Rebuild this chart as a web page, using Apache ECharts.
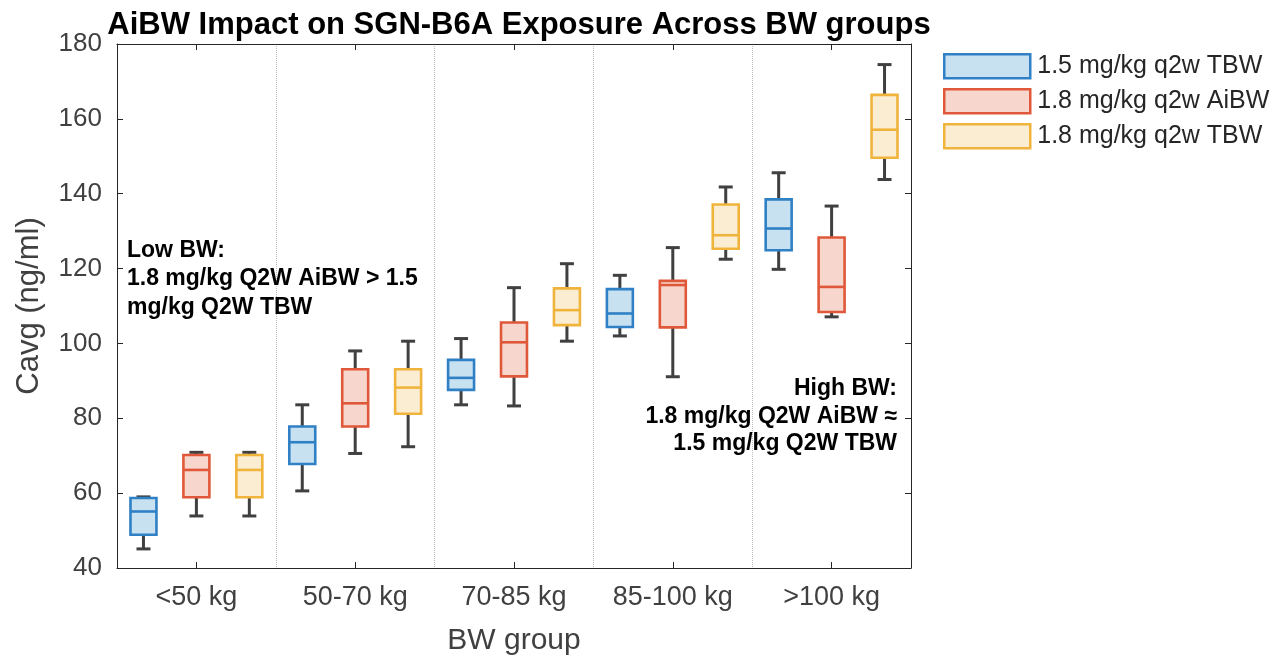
<!DOCTYPE html>
<html>
<head>
<meta charset="utf-8">
<script src="https://cdn.jsdelivr.net/npm/echarts@6/dist/echarts.min.js"></script>
<style>html,body{margin:0;padding:0;background:#fff}#c{width:1281px;height:661px}</style>
</head>
<body>
<div id="c"></div>
<script>
// ---- data : [min, Q1, median, Q3, max] ----
const categories = ['<50 kg', '50-70 kg', '70-85 kg', '85-100 kg', '>100 kg'];
const seriesNames = ['1.5 mg/kg q2w TBW', '1.8 mg/kg q2w AiBW', '1.8 mg/kg q2w TBW'];
const tbw15 = [
  [45.1, 48.9, 55.1, 58.7, 59.0],
  [60.6, 67.8, 73.6, 77.8, 83.6],
  [83.6, 87.6, 90.8, 95.6, 101.3],
  [102.0, 104.4, 108.0, 114.5, 118.2],
  [119.8, 124.9, 130.7, 138.5, 145.6]
];
const aibw18 = [
  [53.9, 58.9, 66.2, 70.2, 70.9],
  [70.6, 77.8, 84.0, 93.1, 98.0],
  [83.3, 91.2, 100.3, 105.6, 114.9],
  [91.1, 104.3, 115.6, 116.7, 125.6],
  [107.1, 108.4, 115.1, 128.3, 136.7]
];
const tbw18 = [
  [53.9, 58.9, 66.2, 70.2, 70.9],
  [72.4, 81.2, 88.2, 93.1, 100.6],
  [100.6, 104.9, 108.9, 114.7, 121.3],
  [122.5, 125.3, 128.9, 137.1, 141.8],
  [143.8, 149.6, 157.1, 166.4, 174.5]
];
const yTicks = { min: 40, max: 180, interval: 20 };

// ---- styles ----
const FONT = 'Liberation Sans, Arial, sans-serif';
const AXIS = '#262626';
const LABEL = '#404040';
const WHISKER = '#404040';
const styles = [
  { stroke: '#2f80c5', fill: '#c8e1f1', offset: -1 / 3 },
  { stroke: '#e0583a', fill: '#f7d6cd', offset: 0 },
  { stroke: '#f0b43c', fill: '#fbedd1', offset: 1 / 3 }
];
const BOX_FRAC = 26 / 159;
const CAP_FRAC = 14 / 159;

function toItems(arr) {
  return arr.map((v, i) => [i].concat(v));
}

function makeRender(st) {
  return function (params, api) {
    const xi = api.value(0);
    const band = api.size([1, 0])[0];
    const cx = api.coord([xi, api.value(3)])[0] + band * st.offset;
    const yMin = api.coord([xi, api.value(1)])[1];
    const yQ1 = api.coord([xi, api.value(2)])[1];
    const yMed = api.coord([xi, api.value(3)])[1];
    const yQ3 = api.coord([xi, api.value(4)])[1];
    const yMax = api.coord([xi, api.value(5)])[1];
    const hw = band * BOX_FRAC / 2;
    const cw = band * CAP_FRAC / 2;
    const wStyle = { stroke: WHISKER, lineWidth: 3, fill: null };
    return {
      type: 'group',
      children: [
        { type: 'line', shape: { x1: cx, y1: yQ3, x2: cx, y2: yMax }, style: wStyle },
        { type: 'line', shape: { x1: cx, y1: yQ1, x2: cx, y2: yMin }, style: wStyle },
        { type: 'line', shape: { x1: cx - cw, y1: yMax, x2: cx + cw, y2: yMax }, style: wStyle },
        { type: 'line', shape: { x1: cx - cw, y1: yMin, x2: cx + cw, y2: yMin }, style: wStyle },
        { type: 'rect', shape: { x: cx - hw, y: yQ3, width: 2 * hw, height: yQ1 - yQ3 },
          style: { fill: st.fill, stroke: st.stroke, lineWidth: 2.6 } },
        { type: 'line', shape: { x1: cx - hw, y1: yMed, x2: cx + hw, y2: yMed },
          style: { stroke: st.stroke, lineWidth: 2.6 } }
      ]
    };
  };
}

const allData = [tbw15, aibw18, tbw18];
const series = allData.map((d, k) => ({
  name: seriesNames[k],
  type: 'custom',
  renderItem: makeRender(styles[k]),
  encode: { x: 0, y: [1, 2, 3, 4, 5] },
  itemStyle: { color: styles[k].fill, borderColor: styles[k].stroke, borderWidth: 2.5 },
  data: toItems(d),
  z: 5
}));

const chart = echarts.init(document.getElementById('c'), null, { renderer: 'canvas' });
chart.setOption({
  animation: false,
  backgroundColor: '#fff',
  textStyle: { fontFamily: FONT },
  title: {
    text: 'AiBW Impact on SGN-B6A Exposure Across BW groups',
    left: 514, top: 5, textAlign: 'center',
    textStyle: { fontFamily: FONT, fontSize: 31, fontWeight: 'bold', color: '#000' }
  },
  legend: {
    orient: 'vertical', left: 943, top: 53, padding: 0,
    itemWidth: 86, itemHeight: 24, itemGap: 8.5,
    icon: 'rect',
    textStyle: { fontFamily: FONT, fontSize: 25, color: '#262626', padding: [0, 0, 0, 2] },
    data: seriesNames.map((n, k) => ({
      name: n,
      itemStyle: { color: styles[k].fill, borderColor: styles[k].stroke, borderWidth: 2.5 }
    }))
  },
  grid: { left: 117, top: 44, width: 794, height: 525, containLabel: false },
  xAxis: [
    {
      type: 'category', data: categories, position: 'bottom',
      boundaryGap: true,
      axisLine: { show: true, lineStyle: { color: AXIS, width: 1 } },
      axisTick: { show: true, inside: true, alignWithLabel: true, length: 6, lineStyle: { color: AXIS } },
      axisLabel: { fontFamily: FONT, fontSize: 27, color: LABEL, margin: 16 },
      splitLine: { show: true, lineStyle: { type: 'dotted', color: '#bdbdbd', width: 1 } },
      name: 'BW group', nameLocation: 'middle', nameGap: 58,
      nameTextStyle: { fontFamily: FONT, fontSize: 30, color: LABEL }
    },
    {
      type: 'category', data: categories, position: 'top',
      boundaryGap: true,
      axisLine: { show: true, lineStyle: { color: AXIS, width: 1 } },
      axisTick: { show: true, inside: true, alignWithLabel: true, length: 6, lineStyle: { color: AXIS } },
      axisLabel: { show: false },
      splitLine: { show: false }
    }
  ],
  yAxis: [
    {
      type: 'value', min: yTicks.min, max: yTicks.max, interval: yTicks.interval, position: 'left',
      axisLine: { show: true, lineStyle: { color: AXIS, width: 1 } },
      axisTick: { show: true, inside: true, length: 6, lineStyle: { color: AXIS } },
      axisLabel: { fontFamily: FONT, fontSize: 26, color: LABEL, margin: 15 },
      splitLine: { show: false },
      name: 'Cavg (ng/ml)', nameLocation: 'middle', nameGap: 72, nameRotate: 90,
      nameTextStyle: { fontFamily: FONT, fontSize: 31, color: LABEL }
    },
    {
      type: 'value', min: yTicks.min, max: yTicks.max, interval: yTicks.interval, position: 'right',
      axisLine: { show: true, lineStyle: { color: AXIS, width: 1 } },
      axisTick: { show: true, inside: true, length: 6, lineStyle: { color: AXIS } },
      axisLabel: { show: false },
      splitLine: { show: false }
    }
  ],
  graphic: [
    {
      type: 'text', x: 127, y: 236, z: 10,
      style: {
        text: 'Low BW:\n1.8 mg/kg Q2W AiBW > 1.5\nmg/kg Q2W TBW',
        font: 'bold 23px ' + FONT, lineHeight: 28.5, fill: '#000',
        align: 'left', verticalAlign: 'top'
      }
    },
    {
      type: 'text', x: 897, y: 375, z: 10,
      style: {
        text: 'High BW:\n1.8 mg/kg Q2W AiBW \u2248\n1.5 mg/kg Q2W TBW',
        font: 'bold 23px ' + FONT, lineHeight: 27.5, fill: '#000',
        align: 'right', verticalAlign: 'top'
      }
    }
  ],
  series: series
});
</script>
</body>
</html>
